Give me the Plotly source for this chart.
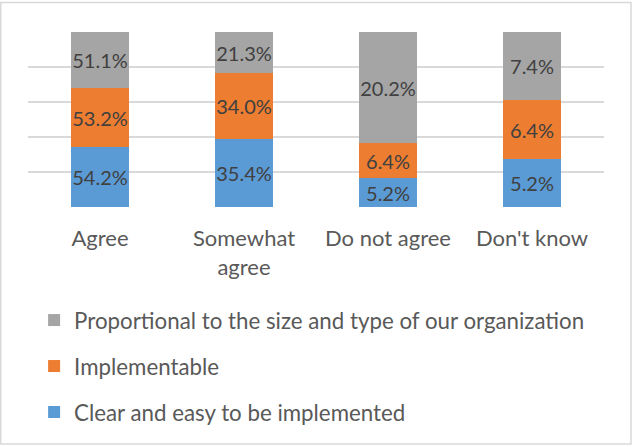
import plotly.graph_objects as go

categories = ["Agree", "Somewhat<br>agree", "Do not agree", "Don't know"]
clear_easy = [54.2, 35.4, 5.2, 5.2]
implementable = [53.2, 34.0, 6.4, 6.4]
proportional = [51.1, 21.3, 20.2, 7.4]

series = [
    ("Clear and easy to be implemented", clear_easy, "#5b9bd5"),
    ("Implementable", implementable, "#ed7d31"),
    ("Proportional to the size and type of our organization", proportional, "#a5a5a5"),
]

FONT = "Lato"
fig = go.Figure()
for i, (name, vals, color) in enumerate(series):
    fig.add_trace(go.Bar(
        x=categories, y=vals, name=name,
        marker=dict(color=color, line=dict(width=0)),
        text=[f"{v:.1f}%" for v in vals],
        textposition="inside", insidetextanchor="middle", textangle=0,
        textfont=dict(family=FONT, size=20, color="#404040"),
        legendgroup=f"g{i}", legendrank=3 - i,
    ))

fig.update_layout(
    barmode="stack", barnorm="percent", bargap=0.6,
    width=633, height=447,
    margin=dict(l=28, r=29, t=32, b=240, autoexpand=False),
    paper_bgcolor="white", plot_bgcolor="white",
    font=dict(family=FONT, size=22, color="#595959"),
    showlegend=True,
    legend=dict(orientation="v", traceorder="grouped", tracegroupgap=14,
                x=0.0106, xanchor="left", y=-0.526, yanchor="top",
                font=dict(family=FONT, size=22.3, color="#595959"),
                itemwidth=30, bgcolor="rgba(0,0,0,0)"),
    uniformtext=dict(minsize=20, mode="show"),
    xaxis=dict(showgrid=False, showline=False, ticks="", ticklabelstandoff=16,
               tickfont=dict(size=22, color="#595959")),
    yaxis=dict(range=[0, 100], dtick=20, showticklabels=False, showgrid=True,
               gridcolor="#d9d9d9", gridwidth=2, zeroline=False, showline=False),
    shapes=[dict(type="rect", xref="paper", yref="paper",
                 x0=(0.75 - 28) / 576, x1=(631 - 28) / 576,
                 y0=(207 - 444) / 175, y1=(207 - 2.5) / 175,
                 line=dict(color="#d9d9d9", width=1.5), fillcolor="rgba(0,0,0,0)", layer="below")],
)

fig.write_html("out.html", config={"displayModeBar": False},
               post_script="document.body.style.margin='0';document.body.style.overflow='hidden';")
